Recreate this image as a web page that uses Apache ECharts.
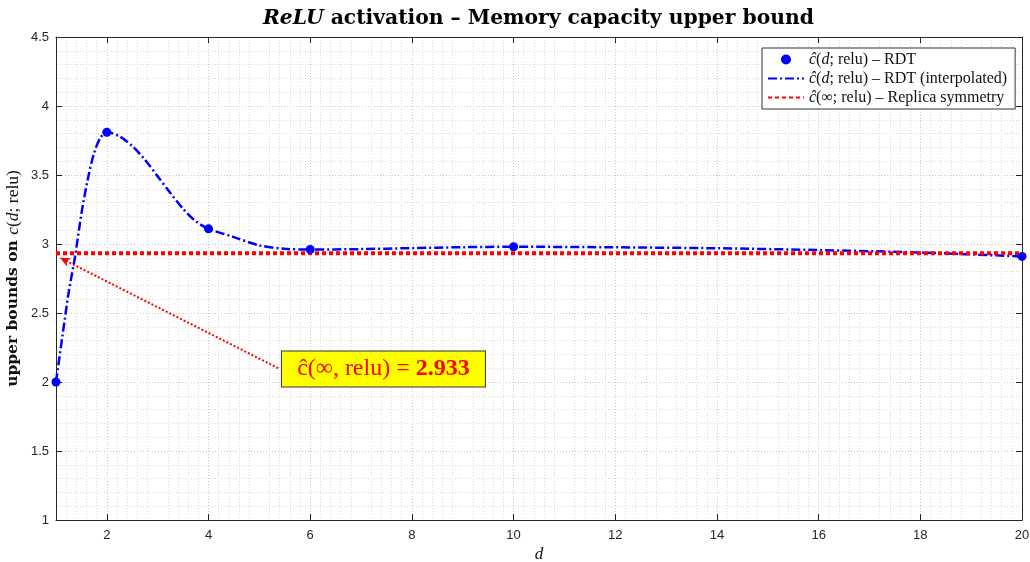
<!DOCTYPE html>
<html>
<head>
<meta charset="utf-8">
<script src="https://cdn.jsdelivr.net/npm/echarts@6/dist/echarts.min.js"></script>
<style>
html,body{margin:0;padding:0;background:#fff;}
#chart{width:1030px;height:562px;}
</style>
</head>
<body>
<div id="chart"></div>
<script>
// RDT upper bounds at computed d values
const dPoints = [1, 2, 4, 6, 10, 20];
const cRDT = [2.00, 3.81, 3.11, 2.96, 2.98, 2.91];
// interpolated curve
const dCurve = [1, 1.125, 1.25, 1.375, 1.5, 1.625, 1.75, 1.875, 2, 2.25, 2.5, 2.75, 3, 3.25, 3.5, 3.75, 4, 4.5, 5, 5.5, 6, 7, 8, 9, 10, 12, 14, 16, 18, 20];
const cCurve = [2.00, 2.33, 2.65, 2.91, 3.22, 3.47, 3.66, 3.77, 3.81, 3.78, 3.71, 3.61, 3.49, 3.37, 3.255, 3.165, 3.11, 3.05, 2.99, 2.965, 2.96, 2.963, 2.97, 2.977, 2.98, 2.976, 2.969, 2.956, 2.938, 2.91];
// replica symmetry level
const cReplica = 2.933;
const replicaD = [1, 20];
// tick labels
const xTicks = [2, 4, 6, 8, 10, 12, 14, 16, 18, 20];
const yTicks = [1, 1.5, 2, 2.5, 3, 3.5, 4, 4.5];
// annotation anchors (data coords)
const arrowFrom = [5.37, 2.10];
const arrowTo = [1.08, 2.90];
const boxAt = [7.44, 2.094];

const serif = 'Liberation Serif';
const chart = echarts.init(document.getElementById('chart'), null, {renderer: 'canvas'});

const axisColor = '#262626';
const gridMajor = {show: true, lineStyle: {color: '#c9c9c9', type: [1, 2], width: 1}};
const gridMinor = {show: true, lineStyle: {color: '#dadada', type: [1, 2], width: 1}};

const legendNames = {
  'RDT': '{i|ĉ}{r|(}{i|d}{r|; relu) – RDT}',
  'RDT (interpolated)': '{i|ĉ}{r|(}{i|d}{r|; relu) – RDT (interpolated)}',
  'Replica symmetry': '{i|ĉ}{r|(∞; relu) – Replica symmetry}'
};

const option = {
  animation: false,
  backgroundColor: '#ffffff',
  title: {
    left: 258,
    top: 4,
    text: '{i|ReLU}{b| activation – Memory capacity upper bound}',
    textStyle: {
      rich: {
        i: {fontFamily: 'DejaVu Serif', fontStyle: 'italic', fontWeight: 'bold', fontSize: 20.3, color: '#000'},
        b: {fontFamily: 'DejaVu Serif', fontWeight: 'bold', fontSize: 20.3, color: '#000'}
      }
    }
  },
  grid: {left: 56, right: 8, top: 37, bottom: 42, containLabel: false, outerBoundsMode: 'none'},
  legend: {
    left: 762,
    top: 48,
    orient: 'vertical',
    data: [
      {name: 'RDT'},
      {name: 'RDT (interpolated)', itemStyle: {opacity: 0}},
      {name: 'Replica symmetry', itemStyle: {opacity: 0}}
    ],
    backgroundColor: '#ffffff',
    borderColor: '#333333',
    borderWidth: 1,
    padding: [3, 8, 3, 5],
    itemGap: 2,
    itemWidth: 36,
    itemHeight: 10,
    selectedMode: false,
    formatter: function (name) { return legendNames[name]; },
    textStyle: {
      lineHeight: 17,
      rich: {
        i: {fontFamily: serif, fontStyle: 'italic', fontSize: 16, color: '#111', lineHeight: 17},
        r: {fontFamily: serif, fontSize: 16, color: '#111', lineHeight: 17}
      }
    }
  },
  xAxis: [{
    type: 'value', min: 1, max: 20, interval: 1,
    name: 'd', nameLocation: 'middle', nameGap: 26, nameMoveOverlap: false,
    nameTextStyle: {fontFamily: serif, fontStyle: 'italic', fontSize: 17, color: '#111'},
    axisLine: {show: true, onZero: false, lineStyle: {color: axisColor, width: 1}},
    axisTick: {show: true, inside: true, length: 6, customValues: xTicks, lineStyle: {color: axisColor}},
    axisLabel: {customValues: xTicks, margin: 9, fontFamily: 'Liberation Sans', fontSize: 13, color: '#262626'},
    splitLine: gridMajor,
    minorTick: {show: false, splitNumber: 5},
    minorSplitLine: gridMinor
  }, {
    type: 'value', min: 1, max: 20, interval: 1, position: 'top',
    axisLine: {show: true, onZero: false, lineStyle: {color: axisColor, width: 1}},
    axisTick: {show: true, inside: true, length: 6, customValues: xTicks, lineStyle: {color: axisColor}},
    axisLabel: {show: false},
    splitLine: {show: false}
  }],
  yAxis: [{
    type: 'value', min: 1, max: 4.5, interval: 0.5,
    name: '{b|upper bounds on }{i|c}{r|(}{i|d}{r|; relu)}',
    nameLocation: 'middle', nameGap: 34, nameMoveOverlap: false,
    nameTextStyle: {
      rich: {
        b: {fontFamily: 'DejaVu Serif', fontWeight: 'bold', fontSize: 15.5, color: '#111'},
        i: {fontFamily: serif, fontStyle: 'italic', fontSize: 17.5, color: '#111'},
        r: {fontFamily: serif, fontSize: 17.5, color: '#111'}
      }
    },
    axisLine: {show: true, onZero: false, lineStyle: {color: axisColor, width: 1}},
    axisTick: {show: true, inside: true, length: 6, lineStyle: {color: axisColor}},
    axisLabel: {margin: 7, fontFamily: 'Liberation Sans', fontSize: 13, color: '#262626',
      formatter: function (v) { return yTicks.indexOf(v) >= 0 ? String(v) : ''; }},
    splitLine: gridMajor,
    minorTick: {show: false, splitNumber: 5},
    minorSplitLine: gridMinor
  }, {
    type: 'value', min: 1, max: 4.5, interval: 0.5, position: 'right',
    axisLine: {show: true, onZero: false, lineStyle: {color: axisColor, width: 1}},
    axisTick: {show: true, inside: true, length: 6, lineStyle: {color: axisColor}},
    axisLabel: {show: false},
    splitLine: {show: false}
  }],
  series: [
    {
      name: 'RDT (interpolated)',
      type: 'line',
      data: dCurve.map((d, i) => [d, cCurve[i]]),
      smooth: 0.3,
      symbol: 'none',
      lineStyle: {color: '#0000ff', width: 2.5, type: [9, 3, 2, 3]},
      itemStyle: {color: '#0000ff'},
      z: 3
    },
    {
      name: 'Replica symmetry',
      type: 'line',
      data: replicaD.map(d => [d, cReplica]),
      symbol: 'none',
      lineStyle: {color: '#ff0000', width: 4, type: [4, 3]},
      itemStyle: {color: '#ff0000'},
      z: 4
    },
    {
      name: 'RDT',
      type: 'scatter',
      data: dPoints.map((d, i) => [d, cRDT[i]]),
      symbol: 'circle',
      symbolSize: 9,
      itemStyle: {color: '#0000ff', opacity: 1},
      z: 6
    },
    {
      name: 'annot',
      type: 'line',
      data: [],
      symbol: 'none',
      z: 7,
      markLine: {
        silent: true,
        symbol: ['none', 'arrow'],
        symbolSize: [7, 10],
        label: {show: false},
        lineStyle: {color: '#ff0000', type: [2, 2], width: 2},
        data: [[{coord: arrowFrom}, {coord: arrowTo}]]
      },
      markPoint: {
        silent: true,
        symbol: 'rect',
        symbolSize: 1,
        itemStyle: {color: 'rgba(0,0,0,0)'},
        label: {
          show: true,
          position: 'inside',
          formatter: '{a|ĉ(∞, relu) = }{b|' + cReplica.toFixed(3) + '}',
          backgroundColor: '#ffff00',
          borderColor: '#333333',
          borderWidth: 1,
          padding: [4, 8, 4, 8],
          width: 187,
          align: 'center',
          rich: {
            a: {fontFamily: serif, fontSize: 24, color: '#ff0000', lineHeight: 27},
            b: {fontFamily: serif, fontWeight: 'bold', fontSize: 24, color: '#ff0000', lineHeight: 27}
          }
        },
        data: [{coord: boxAt}]
      }
    }
  ]
};
chart.setOption(option);
</script>
</body>
</html>
